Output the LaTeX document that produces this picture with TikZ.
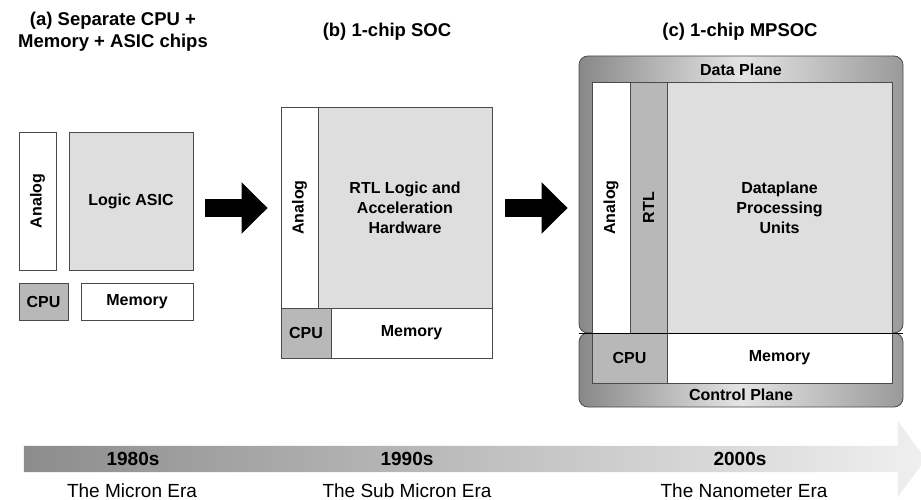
\documentclass[tikz,border=0pt]{standalone}
\usepackage{fontspec}
\setmainfont{Liberation Sans}
\usepackage{tikz}
\usetikzlibrary{positioning}
\usetikzlibrary{arrows.meta,shapes.arrows}

\definecolor{linegray}{HTML}{4A4A4A}
\definecolor{litegray}{HTML}{DEDEDE}
\definecolor{midgray}{HTML}{B8B8B8}
\definecolor{framedark}{HTML}{888888}
\definecolor{framelite}{HTML}{E4E4E4}

\tikzset{
  blk/.style={draw=linegray, line width=0.8pt, inner sep=0pt, align=center,
    font=\bfseries\fontsize{16}{20}\selectfont},
  whitebox/.style={blk, fill=white},
  litebox/.style={blk, fill=litegray},
  midbox/.style={blk, fill=midgray},
  planeframe/.style={draw=linegray, line width=0.8pt, rounded corners=9pt, inner sep=0pt,
    left color=framedark, right color=framedark!85!white, middle color=framelite},
  title/.style={align=center, font=\bfseries\fontsize{18.5}{22}\selectfont},
  planelabel/.style={font=\bfseries\fontsize{16}{20}\selectfont},
  year/.style={font=\bfseries\fontsize{19}{22}\selectfont},
  era/.style={font=\fontsize{19}{22}\selectfont},
  bigarrow/.style={line width=18pt, -{Triangle[length=26pt,width=50pt]}}
}

\begin{document}
\begin{tikzpicture}[x=1pt,y=-1pt]
  \useasboundingbox (0,0) rectangle (921,500);

  % titles
  \node (titleA) [title] at (113,32) {(a) Separate CPU +\\Memory + ASIC chips};
  \node (titleB) [title] at (387,32) {(b) 1-chip SOC};
  \node (titleC) [title] at (740,32) {(c) 1-chip MPSOC};

  % (a) separate chips
  \node (analogA) [whitebox, rotate=90, minimum width=138pt, minimum height=37pt] at (37.5,201) {Analog};
  \node (logicA)  [litebox, minimum width=124pt, minimum height=138pt] at (131,201) {Logic ASIC};
  \node (cpuA)    [midbox, minimum width=49pt, minimum height=37pt] at (43.5,301.5) {CPU};
  \node (memA)    [whitebox, minimum width=112pt, minimum height=37pt] at (137,301.5) {Memory};

  % (b) one chip
  \node (analogB) [whitebox, rotate=90, minimum width=201pt, minimum height=37pt] at (299.5,207.5) {Analog};
  \node (rtlB)    [litebox, minimum width=174pt, minimum height=201pt] at (405,207.5) {RTL Logic and\\Acceleration\\Hardware};
  \node (cpuB)    [midbox, minimum width=50pt, minimum height=50pt] at (306,333) {CPU};
  \node (memB)    [whitebox, minimum width=161pt, minimum height=50pt] at (411.5,333) {Memory};

  % (c) data plane and control plane
  \node (dataplane)    [planeframe, minimum width=324pt, minimum height=277pt] at (741,194.5) {};
  \node (controlplane) [planeframe, minimum width=324pt, minimum height=74pt] at (741,370) {};
  \node (dataLabel)    [planelabel] at (741,70) {Data Plane};
  \node (controlLabel) [planelabel] at (741,395) {Control Plane};
  \node (analogC) [whitebox, rotate=90, minimum width=251pt, minimum height=38pt] at (611,207.5) {Analog};
  \node (rtlC)    [midbox, rotate=90, minimum width=251pt, minimum height=37pt] at (648.5,207.5) {RTL};
  \node (dpuC)    [litebox, minimum width=225pt, minimum height=251pt] at (779.5,207.5) {Dataplane\\Processing\\Units};
  \node (cpuC)    [midbox, minimum width=75pt, minimum height=50pt] at (629.5,358) {CPU};
  \node (memC)    [whitebox, minimum width=225pt, minimum height=50pt] at (779.5,358) {Memory};
  \draw[line width=1.8pt] (dataplane.south west) -- (dataplane.south east);

  % steps
  \draw[bigarrow, shorten <=12pt, shorten >=13pt] ([yshift=-7pt]logicA.east) -- ([yshift=-7pt]logicA.east -| cpuB.west);
  \draw[bigarrow, shorten <=13pt, shorten >=11pt] ([yshift=-0.5pt]rtlB.east) -- ([yshift=-0.5pt]rtlB.east -| dataplane.west);

  % time line
  \node (timeline) [single arrow, minimum height=902pt, inner xsep=0pt, inner ysep=13pt,
    single arrow head extend=25pt, single arrow tip angle=107,
    left color=black!45, right color=black!6] at (470,459) {};
  \node (y80) [year] at (133,459) {1980s};
  \node (y90) [year] at (407,459) {1990s};
  \node (y00) [year] at (740,459) {2000s};
  \node (era80) [era] at (132,491) {The Micron Era};
  \node (era90) [era] at (407,491) {The Sub Micron Era};
  \node (era00) [era] at (744,491) {The Nanometer Era};
\end{tikzpicture}
\end{document}
